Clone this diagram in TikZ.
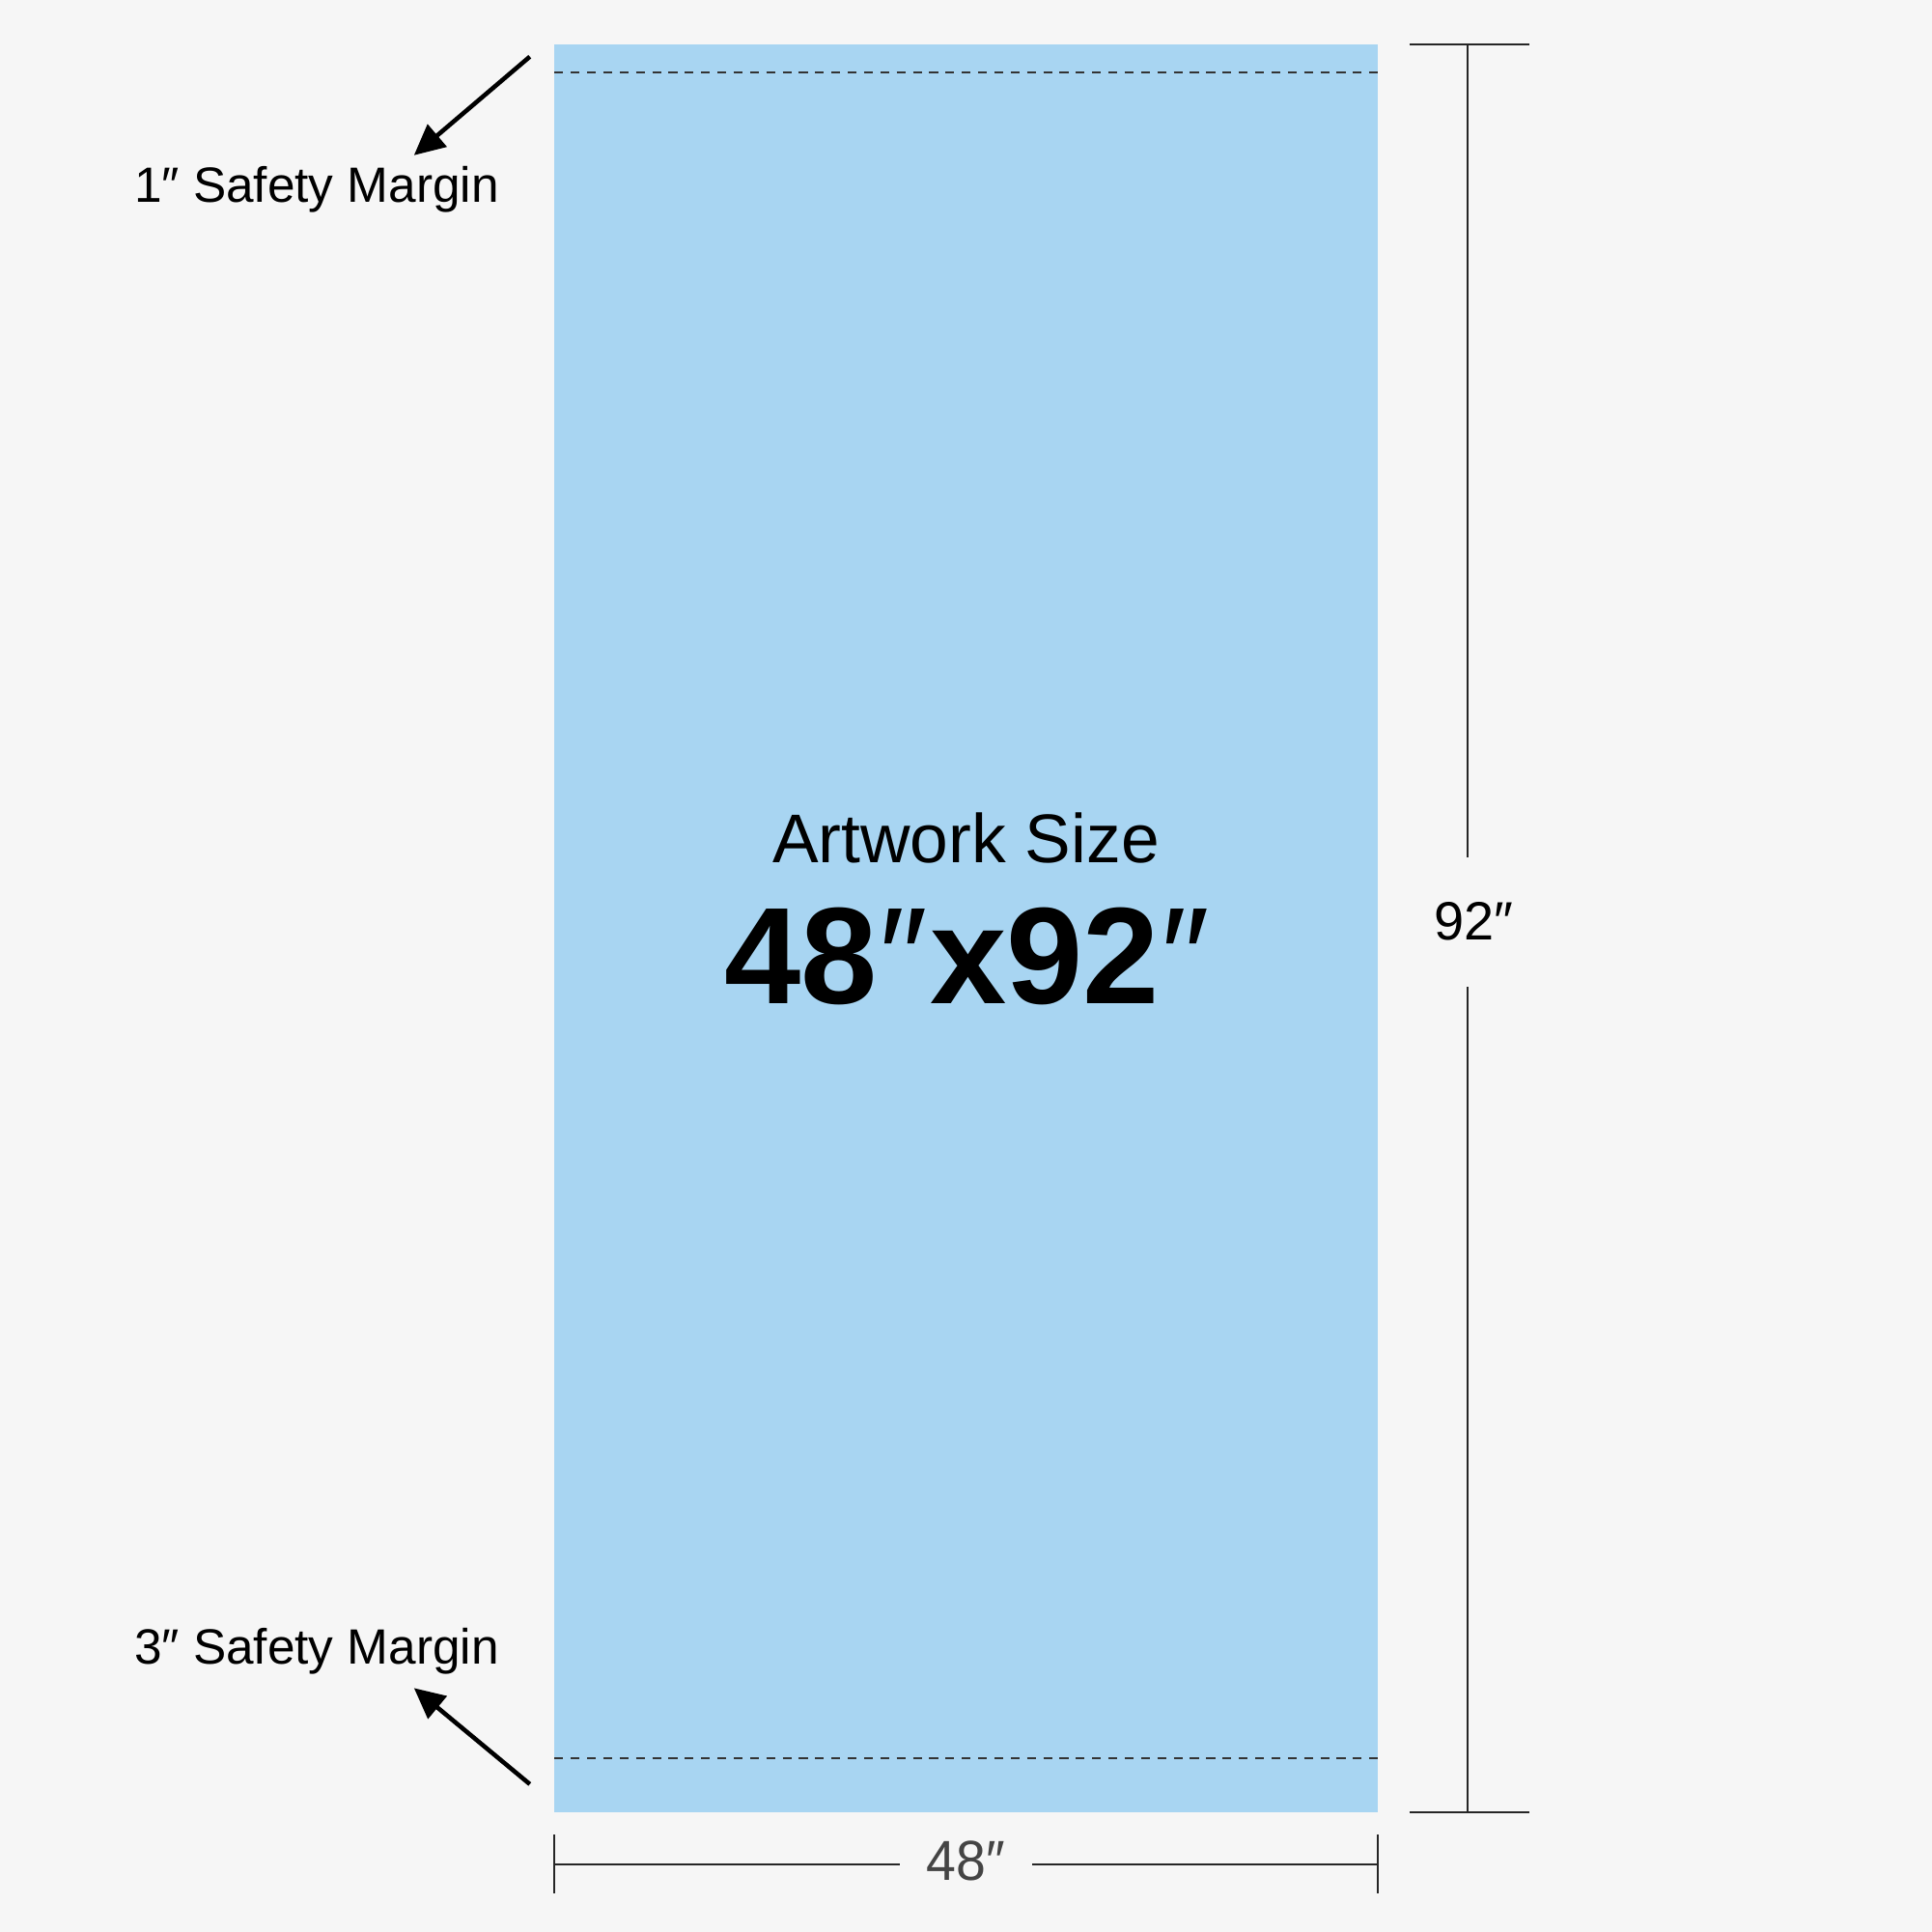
\documentclass[tikz,border=0pt]{standalone}
\usepackage{fontspec}
\usepackage{graphicx}
\setmainfont{Liberation Sans}
\usetikzlibrary{arrows.meta}
\definecolor{bg}{HTML}{F6F6F6}
\definecolor{art}{HTML}{A8D5F2}
\definecolor{dimgray}{HTML}{444444}
\begin{document}
\begin{tikzpicture}[x=0.012762cm,y=-0.012762cm,
  lbl/.style={inner sep=0pt,anchor=center},
  dimline/.style={line width=0.5pt,draw=black!85},
  pointer/.style={line width=1.3pt,-{Triangle[length=9pt,width=8.5pt]}},
  safety/.style={dashed,dash pattern=on 2.6pt off 2.2pt,line width=0.45pt,draw=black!80}]
\useasboundingbox[fill=bg] (0,0) rectangle (1568,1568);
% artwork
\fill[art] (450,36) rectangle (1118,1471);
\draw[safety] (450,59) -- (1118,59);
\draw[safety] (450,1427) -- (1118,1427);
% center text
\node[lbl,font=\fontsize{20.3pt}{24pt}\selectfont] (title) at (784,680) {Artwork Size};
\node[lbl,font=\fontsize{40.5pt}{48pt}\selectfont] (size) at (785,776) {\textbf{48}\kern0.5pt″\kern0.5pt\textbf{x92}\kern0.5pt″};
% right dimension
\coordinate (rt1) at (1144,36); \coordinate (rt2) at (1241,36);
\coordinate (rb1) at (1144,1471); \coordinate (rb2) at (1241,1471);
\coordinate (rv1) at (1191,36); \coordinate (rv2) at (1191,696);
\coordinate (rv3) at (1191,801); \coordinate (rv4) at (1191,1471);
\draw[dimline] (rt1) -- (rt2);
\draw[dimline] (rb1) -- (rb2);
\draw[dimline] (rv1) -- (rv2);
\draw[dimline] (rv3) -- (rv4);
\node[lbl,font=\fontsize{15.9pt}{19pt}\selectfont] (h) at (1196,748) {92″};
% bottom dimension
\coordinate (bl1) at (450,1489); \coordinate (bl2) at (450,1537);
\coordinate (br1) at (1118,1489); \coordinate (br2) at (1118,1537);
\coordinate (bh1) at (450,1513); \coordinate (bh2) at (730,1513);
\coordinate (bh3) at (838,1513); \coordinate (bh4) at (1118,1513);
\draw[dimline,line width=0.6pt] (bl1) -- (bl2);
\draw[dimline,line width=0.6pt] (br1) -- (br2);
\draw[dimline,line width=0.7pt] (bh1) -- (bh2);
\draw[dimline,line width=0.7pt] (bh3) -- (bh4);
\node[lbl,text=dimgray,font=\fontsize{16.6pt}{19pt}\selectfont] (w) at (784,1510) {\scalebox{0.95}[1]{48″}};
% safety margin labels
\node[lbl,font=\fontsize{14.6pt}{18pt}\selectfont] (m1) at (257,154) {1″ Safety Margin};
\node[lbl,font=\fontsize{14.6pt}{18pt}\selectfont] (m3) at (257,1340) {3″ Safety Margin};
\coordinate (a1s) at (430,46); \coordinate (a1e) at (336,126);
\coordinate (a3s) at (430,1448); \coordinate (a3e) at (336,1370);
\draw[pointer] (a1s) -- (a1e);
\draw[pointer] (a3s) -- (a3e);
\end{tikzpicture}
\end{document}
